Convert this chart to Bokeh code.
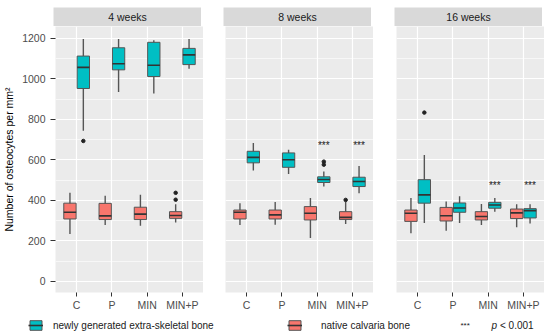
from bokeh.plotting import figure
from bokeh.models import (FactorRange, Range1d, ColumnDataSource, FixedTicker,
                          Label, Legend, LegendItem)
from bokeh.transform import dodge
from bokeh.layouts import column, row
from bokeh.embed import file_html
from bokeh.resources import INLINE
from bokeh.core.properties import value

# ---------------- data ----------------
cats = ["C", "P", "MIN", "MIN+P"]
weeks = ["4 weeks", "8 weeks", "16 weeks"]

# newly generated extra-skeletal bone (teal)
new_low = {"4 weeks": [744, 935, 927, 1050], "8 weeks": [547, 530, 468, 435], "16 weeks": [288, 288, 344, 286]}
new_q1 = {"4 weeks": [952, 1044, 1011, 1070], "8 weeks": [585, 563, 488, 468], "16 weeks": [386, 341, 361, 313]}
new_med = {"4 weeks": [1056, 1074, 1067, 1118], "8 weeks": [612, 600, 503, 493], "16 weeks": [427, 362, 377, 349]}
new_q3 = {"4 weeks": [1112, 1153, 1180, 1150], "8 weeks": [642, 634, 516, 514], "16 weeks": [502, 387, 390, 359]}
new_up = {"4 weeks": [1196, 1196, 1190, 1196], "8 weeks": [683, 650, 542, 569], "16 weeks": [624, 420, 412, 380]}

# native calvaria bone (red)
nat_low = {"4 weeks": [234, 278, 275, 290], "8 weeks": [278, 280, 214, 283], "16 weeks": [237, 250, 278, 267]}
nat_q1 = {"4 weeks": [308, 305, 305, 311], "8 weeks": [308, 308, 303, 305], "16 weeks": [296, 298, 303, 310]}
nat_med = {"4 weeks": [341, 323, 332, 325], "8 weeks": [341, 328, 336, 316], "16 weeks": [336, 324, 320, 338]}
nat_q3 = {"4 weeks": [386, 385, 366, 344], "8 weeks": [352, 352, 369, 344], "16 weeks": [352, 365, 344, 357]}
nat_up = {"4 weeks": [437, 422, 428, 380], "8 weeks": [386, 392, 412, 392], "16 weeks": [412, 394, 382, 380]}

# outliers
out_week = ["4 weeks", "8 weeks", "8 weeks", "16 weeks", "4 weeks", "4 weeks", "8 weeks"]
out_cat = ["C", "MIN", "MIN", "C", "MIN+P", "MIN+P", "MIN+P"]
out_tissue = ["new", "new", "new", "new", "nat", "nat", "nat"]
out_val = [693, 591, 576, 833, 437, 403, 402]

# significance marks (p < 0.001)
star_week = ["8 weeks", "8 weeks", "16 weeks", "16 weeks"]
star_cat = ["MIN", "MIN+P", "MIN", "MIN+P"]
star_y = [683, 683, 486, 486]

y_ticks = [0, 200, 400, 600, 800, 1000, 1200]
y_minor = [100, 300, 500, 700, 900, 1100]

# ---------------- style ----------------
FONT = "Liberation Sans"
TEAL = "#00BFC4"
RED = "#F8766D"
PANEL_BG = "#EBEBEB"
STRIP_BG = "#D9D9D9"
TXT = "#4D4D4D"
FW, FH = 148, 266
lefts = [53, 22, 23]
OFF = 0.19
BW = 0.35

tissues = [
    ("new", OFF, TEAL, new_low, new_q1, new_med, new_q3, new_up),
    ("nat", -OFF, RED, nat_low, nat_q1, nat_med, nat_q3, nat_up),
]

strips, panels = [], []
for i, wk in enumerate(weeks):
    s = figure(width=lefts[i] + FW, height=26, x_range=Range1d(0, 1), y_range=Range1d(0, 1),
               toolbar_location=None, output_backend="svg",
               x_axis_location=None, y_axis_location=None,
               min_border_left=lefts[i], min_border_right=0, min_border_top=7, min_border_bottom=0,
               background_fill_color=STRIP_BG, outline_line_color=None, border_fill_color="white")
    s.grid.visible = False
    s.add_layout(Label(x=0.5, y=0.5, text=wk, text_align="center", text_baseline="middle",
                       text_font=FONT, text_font_size="10.5px", text_color="#1A1A1A"))
    strips.append(s)

    p = figure(frame_width=FW, frame_height=FH,
               x_range=FactorRange(*cats, range_padding=0.1, range_padding_units="absolute"),
               y_range=Range1d(-55, 1258),
               toolbar_location=None, output_backend="svg",
               y_axis_location="left" if i == 0 else None,
               min_border_left=lefts[i], min_border_right=0, min_border_top=0, min_border_bottom=24,
               background_fill_color=PANEL_BG, outline_line_color=None, border_fill_color="white")

    p.xgrid.grid_line_color = "white"
    p.xgrid.grid_line_width = 1.2
    p.ygrid.ticker = FixedTicker(ticks=y_ticks, minor_ticks=y_minor)
    p.ygrid.grid_line_color = "white"
    p.ygrid.grid_line_width = 1.2
    p.ygrid.minor_grid_line_color = "white"
    p.ygrid.minor_grid_line_width = 0.6

    ax = p.xaxis[0]
    ax.axis_line_color = None
    ax.major_tick_line_color = "#333333"
    ax.major_tick_in = 0
    ax.major_tick_out = 4
    ax.major_label_standoff = 2
    ax.major_label_text_font = FONT
    ax.major_label_text_font_size = "10.5px"
    ax.major_label_text_color = TXT
    ax.minor_tick_line_color = None

    if i == 0:
        ay = p.yaxis[0]
        ay.ticker = FixedTicker(ticks=y_ticks, minor_ticks=y_minor)
        ay.axis_line_color = None
        ay.major_tick_line_color = "#333333"
        ay.major_tick_in = 0
        ay.major_tick_out = 5
        ay.minor_tick_line_color = None
        ay.major_label_standoff = 5
        ay.major_label_text_font = FONT
        ay.major_label_text_font_size = "10.5px"
        ay.major_label_text_color = TXT
        ay.axis_label = "Number of osteocytes per mm²"
        ay.axis_label_text_font = FONT
        ay.axis_label_text_font_size = "10.5px"
        ay.axis_label_text_font_style = "normal"
        ay.axis_label_text_color = "#000000"
        ay.axis_label_standoff = 4

    for key, off, col, lo, q1, md, q3, up in tissues:
        src = ColumnDataSource(dict(cat=cats, low=lo[wk], q1=q1[wk], med=md[wk], q3=q3[wk], up=up[wk]))
        p.segment(x0=dodge("cat", off, range=p.x_range), x1=dodge("cat", off, range=p.x_range),
                  y0="low", y1="up", source=src, line_color="#555555", line_width=1.4)
        p.vbar(x=dodge("cat", off, range=p.x_range), width=BW, bottom="q1", top="q3", source=src,
               fill_color=col, line_color="#555555", line_width=1)
        p.segment(x0=dodge("cat", off - BW / 2, range=p.x_range), x1=dodge("cat", off + BW / 2, range=p.x_range),
                  y0="med", y1="med", source=src, line_color="#333333", line_width=1.6)
        ocat = [c for w, c, t in zip(out_week, out_cat, out_tissue) if w == wk and t == key]
        oval = [v for w, t, v in zip(out_week, out_tissue, out_val) if w == wk and t == key]
        if ocat:
            osrc = ColumnDataSource(dict(cat=ocat, val=oval))
            p.scatter(x=dodge("cat", off, range=p.x_range), y="val", source=osrc,
                      size=3.5, fill_color="#222222", line_color="#222222")

    scat = [c for w, c in zip(star_week, star_cat) if w == wk]
    sy = [y for w, y in zip(star_week, star_y) if w == wk]
    if scat:
        ssrc = ColumnDataSource(dict(cat=scat, y=sy, lab=["***"] * len(scat)))
        p.text(x=dodge("cat", OFF, range=p.x_range), y="y", text="lab", source=ssrc,
               text_align="center", text_baseline="alphabetic", y_offset=3,
               text_font=value(FONT), text_font_size="10px", text_color="#1A1A1A")
    panels.append(p)

# ---------------- legend strip ----------------
# legend proxies reuse the 4-week box data; the y range keeps them far out of view
lg = figure(width=sum(lefts) + 3 * FW, height=20, x_range=FactorRange(*cats), y_range=Range1d(5000, 5001),
            toolbar_location=None, output_backend="svg",
            x_axis_location=None, y_axis_location=None,
            min_border_left=0, min_border_right=0, min_border_top=0, min_border_bottom=0,
            outline_line_color=None, border_fill_color="white", background_fill_color="white")
lg.grid.visible = False

leg_specs = [("newly generated extra-skeletal bone", TEAL, new_q1, new_med, new_q3, 28, 10),
             ("native calvaria bone", RED, nat_q1, nat_med, nat_q3, 287, 19)]
for lab, col, q1, md, q3, lx, stand in leg_specs:
    src = ColumnDataSource(dict(cat=cats, q1=q1["4 weeks"], med=md["4 weeks"], q3=q3["4 weeks"]))
    rb = lg.vbar(x="cat", width=BW, top="q3", bottom="q1", source=src,
                 fill_color=col, line_color="#555555", line_width=1)
    rm = lg.segment(x0="cat", x1="cat", y0="med", y1="med", source=src,
                    line_color="#333333", line_width=1.6)
    leg = Legend(items=[LegendItem(label=lab, renderers=[rb, rm])], location=(lx, 5),
                 orientation="horizontal", padding=0, margin=0, spacing=0,
                 glyph_width=15, glyph_height=12, label_height=12, label_standoff=stand,
                 label_text_font=FONT, label_text_font_size="10px", label_text_color="#1A1A1A",
                 border_line_color=None, background_fill_alpha=0)
    lg.add_layout(leg, "center")

lg.add_layout(Label(x=460, y=11, x_units="screen", y_units="screen", text="***",
                    text_baseline="middle", text_font=FONT, text_font_size="8px", text_color="#1A1A1A"))
lg.add_layout(Label(x=491, y=11, x_units="screen", y_units="screen", text="p",
                    text_baseline="middle", text_font=FONT, text_font_size="10px",
                    text_font_style="italic", text_color="#1A1A1A"))
lg.add_layout(Label(x=499.5, y=11, x_units="screen", y_units="screen", text="< 0.001",
                    text_baseline="middle", text_font=FONT, text_font_size="10px", text_color="#1A1A1A"))

layout = column(row(*strips), row(*panels), lg)
open("out.html", "w").write(file_html(layout, INLINE))
